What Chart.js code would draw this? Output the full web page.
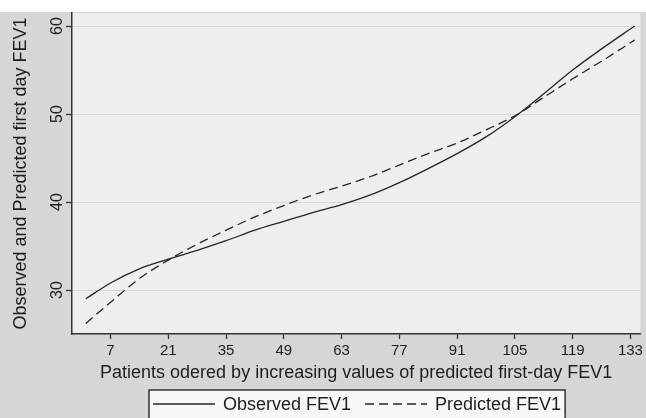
<!DOCTYPE html>
<html>
<head>
<meta charset="utf-8">
<script src="https://cdn.jsdelivr.net/npm/chart.js@4"></script>
<style>
  html, body { margin: 0; padding: 0; background: #d6d6d6; }
  #wrap { width: 646px; height: 418px; }
</style>
</head>
<body>
<div id="wrap"><canvas id="myChart" width="646" height="418"></canvas></div>
<script>
// patient rank on x, FEV1 values
const patients  = [1, 7, 14, 21, 28, 35, 42, 49, 56, 63, 70, 77, 84, 91, 98, 105, 112, 119, 126, 134];
const observed  = [29.0, 30.8, 32.4, 33.5, 34.5, 35.6, 36.8, 37.8, 38.8, 39.7, 40.8, 42.2, 43.8, 45.5, 47.4, 49.7, 52.3, 55.0, 57.4, 60.0];
const predicted = [26.2, 28.6, 31.3, 33.4, 35.2, 36.8, 38.3, 39.6, 40.8, 41.8, 42.9, 44.2, 45.5, 46.7, 48.2, 49.8, 51.9, 54.0, 56.0, 58.4];
const xTicks = [7, 21, 35, 49, 63, 77, 91, 105, 119, 133];
const yTicks = [30, 40, 50, 60];

const font = '"Liberation Sans", Arial, sans-serif';
const ink = '#1e1e1e';

function points(ys){
    return patients.map((p, i) => ({x: p, y: ys[i]}));
}

// grey page, white strip on top, light plot panel
const backdrop = {
    id: 'backdrop',
    beforeDraw(chart){
        const {ctx, chartArea: a, width, height} = chart;
        ctx.save();
        ctx.fillStyle = '#d6d6d6';
        ctx.fillRect(0, 0, width, height);
        ctx.fillStyle = '#ffffff';
        ctx.fillRect(0, 0, width, a.top - 1);
        ctx.fillStyle = '#eeeeee';
        ctx.fillRect(a.left, a.top, a.right - a.left, a.bottom - a.top);
        ctx.restore();
    }
};

// vertical y tick labels, like the stata output
const yLabels = {
    id: 'yLabels',
    afterDraw(chart){
        const {ctx} = chart;
        const y = chart.scales.y;
        ctx.save();
        ctx.fillStyle = ink;
        ctx.font = '16px ' + font;
        ctx.textAlign = 'center';
        ctx.textBaseline = 'middle';
        yTicks.forEach(v => {
            ctx.save();
            ctx.translate(58, y.getPixelForValue(v));
            ctx.rotate(-Math.PI / 2);
            ctx.fillText(String(v), 0, 0);
            ctx.restore();
        });
        ctx.restore();
    }
};

// boxed legend under the axis title
const boxLegend = {
    id: 'boxLegend',
    afterDraw(chart){
        const {ctx} = chart;
        const sets = chart.data.datasets;
        ctx.save();
        ctx.font = '18px ' + font;
        const sample = 62, gapText = 8, gapItem = 14, pad = 4;
        let total = 0;
        sets.forEach((d, i) => {
            total += sample + gapText + ctx.measureText(d.label).width;
            if (i < sets.length - 1) total += gapItem;
        });
        const left = 149;
        const right = left + pad * 2 + total;
        const top = 390, cy = 404;
        ctx.fillStyle = '#f7f7f7';
        ctx.fillRect(left, top, right - left, 30);
        ctx.strokeStyle = '#333';
        ctx.lineWidth = 1.5;
        ctx.strokeRect(left, top, right - left, 30);
        let x = left + pad;
        sets.forEach(d => {
            ctx.beginPath();
            ctx.setLineDash(d.borderDash || []);
            ctx.strokeStyle = d.borderColor;
            ctx.lineWidth = d.borderWidth;
            ctx.moveTo(x, cy);
            ctx.lineTo(x + sample, cy);
            ctx.stroke();
            ctx.setLineDash([]);
            x += sample + gapText;
            ctx.fillStyle = ink;
            ctx.textAlign = 'left';
            ctx.textBaseline = 'middle';
            ctx.fillText(d.label, x, cy + 1);
            x += ctx.measureText(d.label).width + gapItem;
        });
        ctx.restore();
    }
};

const config = {
    type: 'line',
    data: {
        datasets: [
            {
                label: 'Observed FEV1',
                data: points(observed),
                borderColor: '#262626',
                borderWidth: 1.3,
                pointRadius: 0,
                cubicInterpolationMode: 'monotone'
            },
            {
                label: 'Predicted FEV1',
                data: points(predicted),
                borderColor: '#262626',
                borderWidth: 1.3,
                borderDash: [9, 5],
                pointRadius: 0,
                cubicInterpolationMode: 'monotone'
            }
        ]
    },
    options: {
        responsive: false,
        animation: false,
        layout: { padding: { top: 13, right: 3, left: 0, bottom: 34 } },
        scales: {
            x: {
                type: 'linear',
                min: -2.34,
                max: 135.4,
                afterBuildTicks: s => { s.ticks = xTicks.map(v => ({value: v})); },
                afterFit: s => { s.height = 50; },
                grid: { display: true, drawOnChartArea: false, drawTicks: true, tickLength: 5, tickColor: '#333', tickWidth: 1.3 },
                border: { display: true, color: '#333', width: 1.5 },
                ticks: { color: ink, padding: 3, maxRotation: 0, font: { family: font, size: 15 } },
                title: {
                    display: true,
                    text: 'Patients odered by increasing values of predicted first-day FEV1',
                    color: ink,
                    padding: { top: 0, bottom: 0 },
                    font: { family: font, size: 18 }
                }
            },
            y: {
                type: 'linear',
                min: 25.0,
                max: 61.48,
                afterBuildTicks: s => { s.ticks = yTicks.map(v => ({value: v})); },
                afterFit: s => { s.width = 72; },
                grid: { color: '#d8d8d8', lineWidth: 1, tickLength: 6, tickColor: '#333', tickWidth: 1.3 },
                border: { display: true, color: '#333', width: 1.5 },
                ticks: { display: false },
                title: {
                    display: true,
                    text: 'Observed and Predicted first day FEV1',
                    color: ink,
                    padding: { top: 10, bottom: 0 },
                    font: { family: font, size: 18 }
                }
            }
        },
        plugins: {
            legend: { display: false },
            tooltip: { enabled: false }
        }
    },
    plugins: [backdrop, yLabels, boxLegend]
};

new Chart(document.getElementById('myChart'), config);
</script>
</body>
</html>
